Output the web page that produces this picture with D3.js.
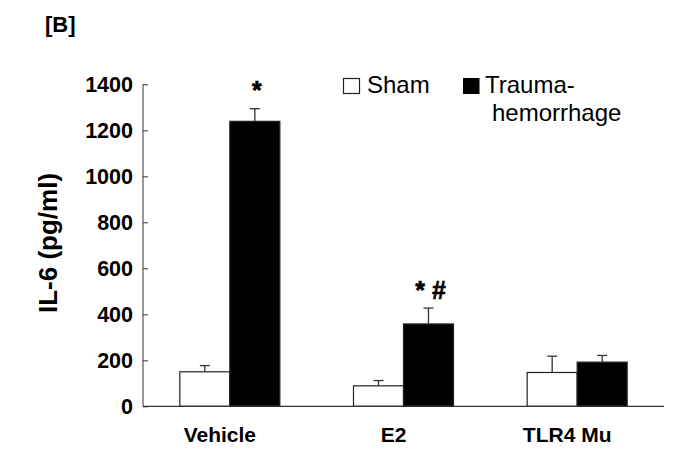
<!DOCTYPE html>
<html>
<head>
<meta charset="utf-8">
<script src="https://cdn.jsdelivr.net/npm/d3@7"></script>
<style>
  html, body { margin: 0; padding: 0; background: #fff; }
  svg { display: block; font-family: "Liberation Sans", Arial, sans-serif; }
</style>
</head>
<body>
<svg id="chart" width="699" height="476"></svg>
<script>
const categories = ["Vehicle", "E2", "TLR4 Mu"];
const series = ["Sham", "Trauma-hemorrhage"];
const shamValues = [150, 89, 147];
const shamErrors = [27, 23, 71];
const thValues = [1239, 358, 192];
const thErrors = [55, 69, 29];
const yTicks = [0, 200, 400, 600, 800, 1000, 1200, 1400];
const annotations = ["*", "* #", ""];

const svg = d3.select("#chart");

const y = d3.scaleLinear().domain([0, 1400]).range([406.3, 84.3]);
const x0 = d3.scaleBand().domain(categories).range([143, 664]).padding(0);
const groupW = 100;
const x1 = d3.scaleBand().domain(series).range([0, groupW]).padding(0);
const fills = { "Sham": "#fff", "Trauma-hemorrhage": "#000" };

const data = categories.map((c, i) => ({
  cat: c,
  bars: [
    { s: "Sham", v: shamValues[i], e: shamErrors[i] },
    { s: "Trauma-hemorrhage", v: thValues[i], e: thErrors[i] }
  ],
  note: annotations[i]
}));

// panel label
svg.append("text").attr("x", 45).attr("y", 32)
  .attr("font-size", 22).attr("font-weight", "bold").text("[B]");

// y axis
const yAxis = d3.axisLeft(y).tickValues(yTicks).tickSize(-5).tickPadding(10).tickFormat(d3.format("d"));
const gy = svg.append("g").attr("transform", "translate(143,0)").call(yAxis);
gy.select(".domain").attr("stroke", "#333").attr("d", `M0,${y(1400)}V${y(0)}`);
gy.selectAll(".tick line").attr("stroke", "#333");
gy.selectAll(".tick text").attr("font-size", 21.5).attr("font-weight", "bold")
  .attr("fill", "#000").attr("font-family", "'Liberation Sans', Arial, sans-serif");

// y axis title
svg.append("text")
  .attr("transform", `translate(57,${(173 + 313) / 2}) rotate(-90)`)
  .attr("text-anchor", "middle").attr("font-size", 26).attr("font-weight", "bold")
  .text("IL-6 (pg/ml)");

// groups
const groups = svg.selectAll("g.grp").data(data).enter().append("g")
  .attr("class", "grp")
  .attr("transform", d => `translate(${x0(d.cat) + (x0.bandwidth() - groupW) / 2},0)`);

// error bars (drawn before bars)
groups.selectAll("g.err").data(d => d.bars).enter().append("g").attr("class", "err")
  .each(function (b) {
    const g = d3.select(this);
    const cx = x1(b.s) + x1.bandwidth() / 2;
    g.append("line").attr("x1", cx).attr("x2", cx)
      .attr("y1", y(b.v)).attr("y2", y(b.v + b.e)).attr("stroke", "#333").attr("stroke-width", 1.3);
    g.append("line").attr("x1", cx - 5).attr("x2", cx + 5)
      .attr("y1", y(b.v + b.e)).attr("y2", y(b.v + b.e)).attr("stroke", "#333").attr("stroke-width", 1.3);
  });

groups.selectAll("rect").data(d => d.bars).enter().append("rect")
  .attr("x", b => x1(b.s))
  .attr("width", x1.bandwidth())
  .attr("y", b => y(b.v))
  .attr("height", b => y(0) - y(b.v))
  .attr("fill", b => fills[b.s])
  .attr("stroke", "#222").attr("stroke-width", 1.2);

// annotations above TH bars
groups.append("text")
  .attr("x", x1("Trauma-hemorrhage") + x1.bandwidth() / 2 + 2)
  .attr("y", d => y(d.bars[1].v + d.bars[1].e) - 9.5)
  .attr("text-anchor", "middle").attr("font-size", 25).attr("font-weight", "bold")
  .style("stroke", "#000").style("stroke-width", 0.6)
  .text(d => d.note);

// x axis line
svg.append("line").attr("x1", 143).attr("x2", 664).attr("y1", y(0)).attr("y2", y(0))
  .attr("stroke", "#333").attr("stroke-width", 1.3);

// x labels
svg.selectAll("text.xl").data(categories).enter().append("text").attr("class", "xl")
  .attr("x", d => x0(d) + x0.bandwidth() / 2 - 10)
  .attr("y", 442)
  .attr("text-anchor", "middle").attr("font-size", 21).attr("font-weight", "bold")
  .text(d => d);

// legend
const leg = svg.append("g");
leg.append("rect").attr("x", 343.5).attr("y", 78.5).attr("width", 16).attr("height", 15)
  .attr("fill", "#fff").attr("stroke", "#222").attr("stroke-width", 1.2);
leg.append("text").attr("x", 367).attr("y", 93).attr("font-size", 24).text("Sham");
leg.append("rect").attr("x", 463).attr("y", 78).attr("width", 16.5).attr("height", 16)
  .attr("fill", "#000");
leg.append("text").attr("x", 485).attr("y", 93).attr("font-size", 24).text("Trauma-");
leg.append("text").attr("x", 492).attr("y", 121).attr("font-size", 24).text("hemorrhage");
</script>
</body>
</html>
